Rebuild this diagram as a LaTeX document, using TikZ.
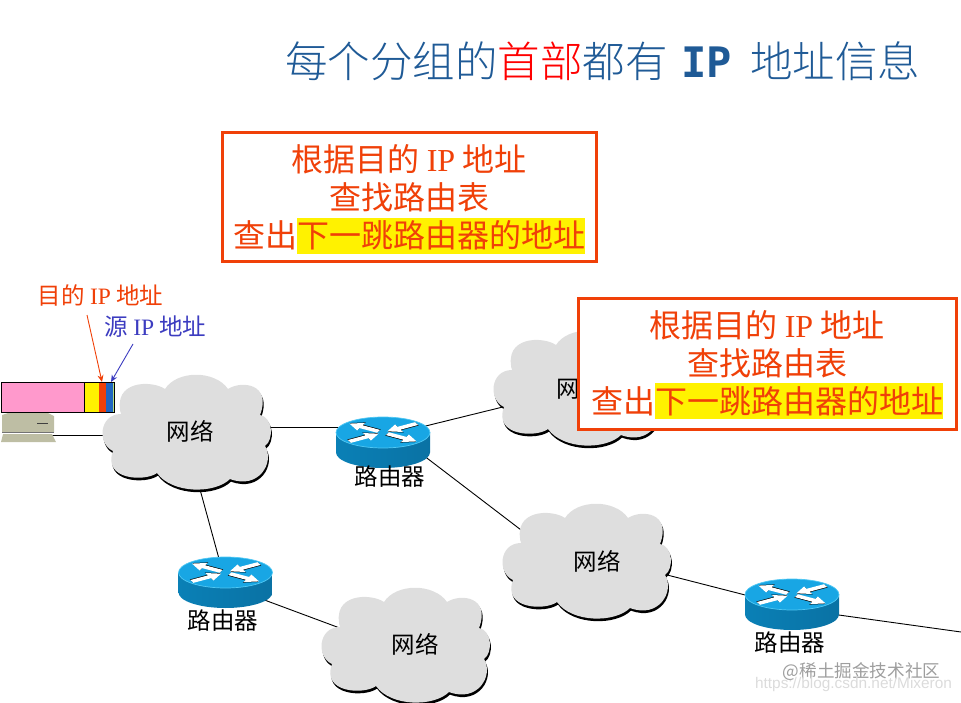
\documentclass[tikz,border=0pt]{standalone}
\usepackage{fontspec}
\setmainfont{Noto Sans CJK SC}
\newfontfamily\titlecjk{Noto Sans CJK SC Light}
\newfontfamily\ipserif{Liberation Serif}
\newfontfamily\ipmono{DejaVu Sans Mono}[BoldFont={DejaVu Sans Mono Bold}]
\newfontfamily\wmlatin{Liberation Sans}
\usetikzlibrary{backgrounds,calc,arrows.meta}
\definecolor{titleblue}{HTML}{1F5A96}
\definecolor{alertred}{HTML}{F04008}
\definecolor{srcblue}{HTML}{3C3CC0}
\definecolor{cloudgray}{HTML}{DEDEDE}
\definecolor{routertop}{HTML}{18A6E4}
\definecolor{routerrim}{HTML}{50C8F4}
\definecolor{routerside}{HTML}{0A80B6}
\definecolor{routersideb}{HTML}{0A72A4}
\definecolor{pcbeige}{HTML}{BEBEA4}
\definecolor{pkpink}{HTML}{FF99CC}
\definecolor{pkblue}{HTML}{1F66C0}
\definecolor{pkgreen}{HTML}{B8E080}
\tikzset{
  netlabel/.style={font=\fontsize{23.5}{26}\selectfont,inner sep=0pt,text=black},
  link/.style={draw=black,line width=0.9pt},
  notebox/.style={draw=alertred,fill=white,line width=3pt,text=alertred,align=center,inner sep=0pt,
    minimum width=#1,font=\fontsize{32}{38}\selectfont},
  notebox/.default=374pt,
  callout/.style={inner sep=0pt,font=\fontsize{23.5}{26}\selectfont},
}
\newcommand{\cloudoutline}{
  (-66,-18) .. controls (-75,-52) and (-35,-52) .. (-22,-43)
  .. controls (-10,-62) and (28,-62) .. (41,-43)
  .. controls (55,-52) and (85,-48) .. (73,-17)
  .. controls (86,-15) and (87,8) .. (78,14)
  .. controls (88,30) and (72,58) .. (43,47)
  .. controls (28,62) and (-15,62) .. (-30,41)
  .. controls (-42,50) and (-85,48) .. (-74,19)
  .. controls (-90,12) and (-88,-18) .. (-66,-18) -- cycle
}
% name, cx, cy, label x, label y
\newcommand{\cloudat}[5]{
  \begin{scope}[shift={(#2+1,#3+2.6)}]\fill[black] \cloudoutline;\end{scope}
  \begin{scope}[shift={(#2,#3)}]\fill[cloudgray] \cloudoutline;\end{scope}
  \node[netlabel] (#1) at (#4,#5) {网络};
}
% flattened arrow on the router's top: angle, tail radius, tip radius (local x)
\newcommand{\routerarm}[3]{
  \begin{scope}[yscale=0.5,rotate=#1]
    \pgfmathsetmacro{\armneck}{#3-(#3-#2)*0.4}
    \fill[black] (#2,-3.2+1.2) -- (\armneck,-3.2+1.2) -- (\armneck,-8.5+1.2) -- (#3,1.2) -- (\armneck,8.5+1.2) -- (\armneck,3.2+1.2) -- (#2,3.2+1.2) -- cycle;
    \fill[white] (#2,-3.2) -- (\armneck,-3.2) -- (\armneck,-8.5) -- (#3,0) -- (\armneck,8.5) -- (\armneck,3.2) -- (#2,3.2) -- cycle;
  \end{scope}
}
% name, x, y of the top ellipse centre
\newcommand{\routerat}[3]{
  \begin{scope}[shift={(#2,#3)}]
    \shade[left color=routerside,right color=routersideb] (-47,0) -- (-47,20) arc[start angle=180,end angle=360,x radius=47pt,y radius=15.5pt] -- (47,0) -- cycle;
    \filldraw[fill=routertop,draw=routerrim,line width=0.7pt] (0,0) ellipse[x radius=47pt,y radius=15.5pt];
    \routerarm{-152}{38}{5}
    \routerarm{-28}{5}{38}
    \routerarm{152}{5}{38}
    \routerarm{28}{38}{5}
    \node[inner sep=0pt,minimum width=94pt,minimum height=50pt] (#1) at (0,10) {};
  \end{scope}
}
\begin{document}
\begin{tikzpicture}[x=1pt,y=-1pt]
\useasboundingbox (0,0) rectangle (961,703);

% title
\node[anchor=west,inner sep=0pt,text=titleblue,font=\titlecjk\fontsize{42.5}{48}\selectfont] (title) at (285,61)
  {每个分组的\textcolor{red}{首部}都有\hspace{14pt}{\ipmono\bfseries\fontsize{42}{48}\selectfont IP}\hspace{18pt}地址信息};

% clouds
\cloudat{c1}{187}{432}{190}{431}
\cloudat{c2}{578}{388}{580}{388}
\cloudat{c3}{587}{561}{597}{561}
\cloudat{c4}{406}{645}{415}{644}

% routers
\routerat{r1}{383}{432.5}
\routerat{r2}{225.5}{572.5}
\routerat{r3}{792}{594.5}
\node[netlabel] (lr1) at (390,477) {路由器};
\node[netlabel] (lr2) at (223,621) {路由器};
\node[netlabel] (lr3) at (790,643) {路由器};

% computer
\fill[pcbeige] (2,432) -- (2,415) -- (8,413) -- (48,413) -- (54,416) -- (54,432) -- cycle;
\draw[black!75,line width=0.8pt] (37,423) -- (48,423);
\fill[pcbeige] (1,442) -- (3,434) -- (52,434) -- (56,442) -- cycle;
\draw[black!55,line width=0.8pt] (2,432.7) -- (54,432.7);
\node[inner sep=0pt,minimum width=54pt,minimum height=29pt] (pc) at (28,428) {};

% packet
\fill[pkpink] (1.7,382) rectangle (84.5,412);
\fill[yellow] (84.5,382) rectangle (99,412);
\fill[alertred] (99,382) rectangle (106,412);
\fill[pkblue] (106,382) rectangle (113,412);
\fill[pkgreen] (113,382) rectangle (114.7,412);
\draw[black,line width=0.9pt] (1.7,382) rectangle (114.7,412);
\draw[black,line width=0.9pt] (84.5,382) -- (84.5,412);
\node[inner sep=0pt,minimum width=113pt,minimum height=30pt] (packet) at (58.2,397) {};

% callouts
\node[callout,text=alertred] (dst) at (100.5,295) {目的 {\ipserif IP} 地址};
\node[callout,text=srcblue] (src) at (155.5,327) {源 {\ipserif IP} 地址};
\coordinate (dsttip) at (102,382);
\coordinate (srctip) at (111,382);
\coordinate (dsttail) at (87,315);
\coordinate (srctail) at (133,344);
\draw[alertred,line width=0.9pt,-{Stealth[length=7pt,width=6pt]}] (dsttail) -- (dsttip);
\draw[srcblue,line width=0.9pt,-{Stealth[length=7pt,width=6pt]}] (srctail) -- (srctip);

% notes
\setlength{\fboxsep}{0pt}
\node[notebox=374pt,minimum height=129pt] (note1) at (409,197.5)
  {\rule{0pt}{31pt}根据目的 {\ipserif IP} 地址\\查找路由表\\查出\colorbox{yellow}{\rule[-6pt]{0pt}{36pt}下一跳路由器的地址}};
\node[notebox=378pt,minimum height=130pt] (note2) at (767,364)
  {\rule{0pt}{28.5pt}根据目的 {\ipserif IP} 地址\\查找路由表\\查出\colorbox{yellow}{\rule[-6pt]{0pt}{36pt}下一跳路由器的地址}};

% watermark
\node[inner sep=0pt,text=black!38,font=\fontsize{17.6}{20}\selectfont] (wm1) at (861.5,672) {@稀土掘金技术社区};
\node[inner sep=0pt,text=black!14,font=\wmlatin\fontsize{15.4}{17}\selectfont] (wm2) at (853.5,685) {https://blog.csdn.net/Mixeron};

% connectors
\coordinate (offpage) at (961,632);
\begin{scope}[on background layer]
  \draw[link] ([yshift=-7pt]pc.center) -- ([yshift=-4pt]c1.center);
  \draw[link] ([yshift=4pt]c1.center) -- ([yshift=15.5pt]r1.center);
  \draw[link] ([yshift=6pt]r1.center) -- (c2.center);
  \draw[link] ([yshift=18pt]r1.center) -- ([yshift=-27pt]c3.center);
  \draw[link] ([yshift=4pt]c3.center) -- ([yshift=-2.5pt]r3.center);
  \draw[link] ([yshift=-4pt]r3.center) -- (offpage);
  \draw[link] ([xshift=-6pt]c1.center) -- (r2.center);
  \draw[link] ([yshift=-3pt]r2.center) -- ([yshift=-12pt]c4.center);
\end{scope}
\end{tikzpicture}
\end{document}
